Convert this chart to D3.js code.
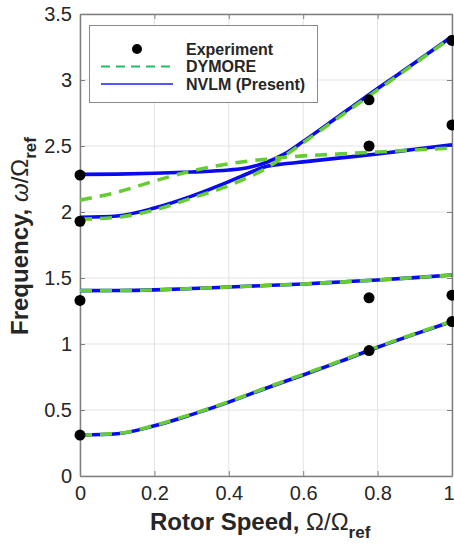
<!DOCTYPE html>
<html><head><meta charset="utf-8">
<script src="https://cdn.jsdelivr.net/npm/d3@7"></script>
<style>
html,body{margin:0;padding:0;background:#fff;}
svg{display:block;font-family:"Liberation Sans",Arial,sans-serif;}
</style></head>
<body><svg id="chart" width="454" height="551"></svg>
<script>
// ---- data ----
const xTicks = [0, 0.2, 0.4, 0.6, 0.8, 1];
const xTickLabels = ["0", "0.2", "0.4", "0.6", "0.8", "1"];
const yTicks = [0, 0.5, 1, 1.5, 2, 2.5, 3, 3.5];
const yTickLabels = ["0", "0.5", "1", "1.5", "2", "2.5", "3", "3.5"];

const speedGrid = [0, 0.1, 0.2, 0.3, 0.4, 0.5, 0.6, 0.7, 0.8, 0.9, 1];
const nvlmMode1 = [0.31, 0.32, 0.38, 0.465, 0.56, 0.665, 0.765, 0.868, 0.975, 1.075, 1.17];
const dymoreMode1 = [0.31, 0.322, 0.383, 0.468, 0.563, 0.668, 0.77, 0.872, 0.978, 1.078, 1.172];
const nvlmMode2 = [1.404, 1.405, 1.41, 1.42, 1.432, 1.443, 1.455, 1.47, 1.485, 1.503, 1.523];
const dymoreMode2 = [1.404, 1.405, 1.41, 1.42, 1.432, 1.443, 1.455, 1.47, 1.485, 1.503, 1.523];

const speedFine = [0, 0.1, 0.2, 0.3, 0.4, 0.45, 0.5, 0.55, 0.6, 0.7, 0.8, 0.9, 1];
const nvlmMode3 = [1.96, 1.97, 2.03, 2.12, 2.23, 2.29, 2.345, 2.365, 2.38, 2.41, 2.44, 2.475, 2.51];
const nvlmMode4 = [2.285, 2.287, 2.293, 2.303, 2.318, 2.335, 2.375, 2.44, 2.535, 2.735, 2.935, 3.13, 3.33];
const dymoreMode3 = [1.945, 1.96, 2.015, 2.105, 2.2, 2.26, 2.33, 2.425, 2.525, 2.725, 2.925, 3.125, 3.325];
const dymoreMode4 = [2.09, 2.15, 2.235, 2.31, 2.365, 2.385, 2.4, 2.415, 2.425, 2.44, 2.455, 2.47, 2.485];

const expSpeed = [0, 0, 0, 0, 0.777, 0.777, 0.777, 0.777, 1, 1, 1, 1];
const expFreq = [0.31, 1.33, 1.93, 2.28, 0.95, 1.35, 2.5, 2.85, 1.17, 1.37, 2.66, 3.3];

const legendLabels = ["Experiment", "DYMORE", "NVLM (Present)"];

// ---- layout ----
const svg = d3.select("#chart");
const L = 80, R = 452, T = 14, B = 476;
const x = d3.scaleLinear().domain([0, 1]).range([L, R]);
const y = d3.scaleLinear().domain([0, 3.5]).range([B, T]);
const axisGray = "#808080", textCol = "#262626";
const blue = "#0a0aee", green = "#66cc33";

// grid
svg.append("g").selectAll("line").data(xTicks).join("line")
  .attr("x1", d => x(d)).attr("x2", d => x(d)).attr("y1", T).attr("y2", B)
  .attr("stroke", "#e3e3e3").attr("stroke-width", 1);
svg.append("g").selectAll("line").data(yTicks).join("line")
  .attr("y1", d => y(d)).attr("y2", d => y(d)).attr("x1", L).attr("x2", R)
  .attr("stroke", "#e3e3e3").attr("stroke-width", 1);

// axes
const xAxis = d3.axisBottom(x).tickValues(xTicks).tickFormat((d, i) => xTickLabels[i]).tickSizeInner(-5).tickSizeOuter(0).tickPadding(10);
const yAxis = d3.axisLeft(y).tickValues(yTicks).tickFormat((d, i) => yTickLabels[i]).tickSizeInner(-5).tickSizeOuter(0).tickPadding(8);
const gx = svg.append("g").attr("transform", `translate(0,${B})`).call(xAxis);
const gy = svg.append("g").attr("transform", `translate(${L},0)`).call(yAxis);
const gxTop = svg.append("g").attr("transform", `translate(0,${T})`).call(d3.axisTop(x).tickValues(xTicks).tickFormat("").tickSizeInner(-5).tickSizeOuter(0));
const gyR = svg.append("g").attr("transform", `translate(${R},0)`).call(d3.axisRight(y).tickValues(yTicks).tickFormat("").tickSizeInner(-5).tickSizeOuter(0));
[gx, gy, gxTop, gyR].forEach(g => {
  g.select(".domain").attr("stroke", axisGray).attr("stroke-width", 1.5);
  g.selectAll(".tick line").attr("stroke", axisGray).attr("stroke-width", 1);
  g.selectAll(".tick text").attr("fill", textCol).style("font-size", "20px").style("font-family", "Liberation Sans, Arial, sans-serif");
});
gx.selectAll(".tick text").attr("dy", "0.71em");
// keep the last x tick label inside the picture
gx.selectAll(".tick text").filter(d => d === 1).attr("text-anchor", "end").attr("x", 454 - R);

// lines
const line = d3.line().x(d => x(d[0])).y(d => y(d[1])).curve(d3.curveMonotoneX);
const plot = svg.append("g");
const nvlmSets = [[speedGrid, nvlmMode1], [speedGrid, nvlmMode2], [speedFine, nvlmMode3], [speedFine, nvlmMode4]];
const dymSets = [[speedGrid, dymoreMode1], [speedGrid, dymoreMode2], [speedFine, dymoreMode3], [speedFine, dymoreMode4]];
nvlmSets.forEach(([xs, ys]) => {
  plot.append("path").datum(xs.map((v, i) => [v, ys[i]])).attr("d", line)
    .attr("fill", "none").attr("stroke", blue).attr("stroke-width", 3.6);
});
dymSets.forEach(([xs, ys]) => {
  plot.append("path").datum(xs.map((v, i) => [v, ys[i]])).attr("d", line)
    .attr("fill", "none").attr("stroke", green).attr("stroke-width", 3.6)
    .attr("stroke-dasharray", "12,8");
});
plot.append("g").selectAll("circle").data(expSpeed.map((v, i) => [v, expFreq[i]])).join("circle")
  .attr("cx", d => x(d[0])).attr("cy", d => y(d[1])).attr("r", 5.5).attr("fill", "#000");

// legend
const lg = svg.append("g");
lg.append("rect").attr("x", 89.5).attr("y", 25.5).attr("width", 228).attr("height", 77)
  .attr("fill", "#fff").attr("stroke", "#8a8a8a").attr("stroke-width", 1);
const rows = [49, 66.5, 84];
lg.append("circle").attr("cx", 137).attr("cy", rows[0]).attr("r", 5).attr("fill", "#000");
lg.append("line").attr("x1", 101).attr("x2", 173).attr("y1", rows[1]).attr("y2", rows[1])
  .attr("stroke", "#22bb66").attr("stroke-width", 2).attr("stroke-dasharray", "9,6");
lg.append("line").attr("x1", 101).attr("x2", 173).attr("y1", rows[2]).attr("y2", rows[2])
  .attr("stroke", "#5555ff").attr("stroke-width", 2);
lg.selectAll("text").data(legendLabels).join("text")
  .attr("x", 186).attr("y", (d, i) => rows[i]).attr("dy", "0.35em")
  .attr("fill", textCol).style("font-size", "16px").style("font-weight", "bold").text(d => d);

// axis labels
const xl = svg.append("text").attr("x", 150).attr("y", 530).attr("text-anchor", "start")
  .attr("fill", textCol).style("font-size", "24px").style("font-weight", "bold");
xl.append("tspan").text("Rotor Speed, ");
xl.append("tspan").style("font-weight", "normal").text("Ω/Ω");
xl.append("tspan").attr("dy", 8).style("font-size", "17px").text("ref");

const yl = svg.append("text").attr("transform", `translate(28,335) rotate(-90)`)
  .attr("text-anchor", "start").attr("fill", textCol).style("font-size", "24px").style("font-weight", "bold");
yl.append("tspan").text("Frequency, ");
yl.append("tspan").style("font-weight", "normal").style("font-style", "italic").text("ω");
yl.append("tspan").style("font-weight", "normal").text("/Ω");
yl.append("tspan").attr("dy", 8).style("font-size", "17px").text("ref");
</script></body></html>
